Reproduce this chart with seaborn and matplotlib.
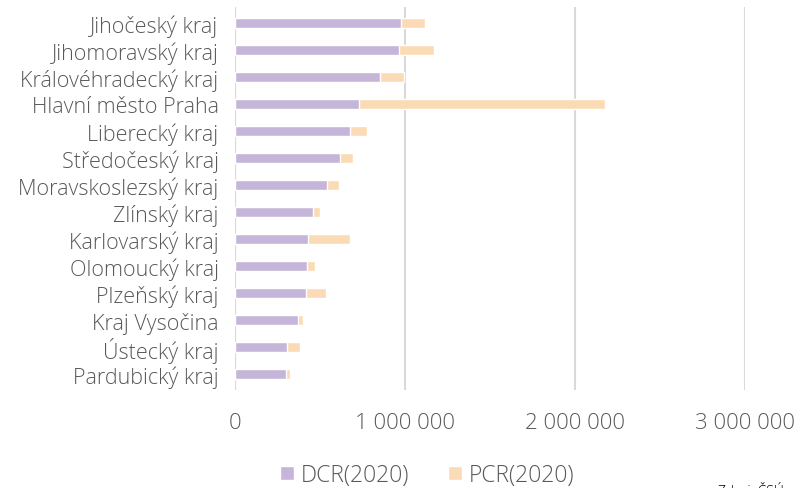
import pandas as pd
import matplotlib.pyplot as plt
import matplotlib.ticker as mticker
from matplotlib.patches import Patch
import seaborn as sns

# Data (in people)
kraje = ['Jihočeský kraj', 'Jihomoravský kraj', 'Královéhradecký kraj', 'Hlavní město Praha',
         'Liberecký kraj', 'Středočeský kraj', 'Moravskoslezský kraj', 'Zlínský kraj',
         'Karlovarský kraj', 'Olomoucký kraj', 'Plzeňský kraj', 'Kraj Vysočina',
         'Ústecký kraj', 'Pardubický kraj']
dcr = [974000, 962000, 850000, 726000, 674000, 615000, 538000, 456000,
       426000, 423000, 415000, 368000, 303000, 297000]
pcr = [143000, 206000, 143000, 1453000, 100000, 76000, 73000, 45000,
       248000, 49000, 117000, 29000, 78000, 23000]

df = pd.DataFrame({'Kraj': kraje, 'DCR': dcr, 'PCR': pcr})
df['Celkem'] = df['DCR'] + df['PCR']

barva_dcr = '#C5B6D9'
barva_pcr = '#FADBB5'
seda = '#595959'

sns.set_style('white')
plt.rcParams['font.family'] = ['Open Sans', 'DejaVu Sans']
plt.rcParams['font.weight'] = 'light'

fig = plt.figure(figsize=(8, 4.89), dpi=100)
ax = fig.add_axes([0.294, 0.2, 0.637, 0.784])

sns.barplot(data=df, y='Kraj', x='Celkem', color=barva_pcr, orient='h', width=0.4,
            saturation=1, ax=ax)
sns.barplot(data=df, y='Kraj', x='DCR', color=barva_dcr, orient='h', width=0.4,
            saturation=1, ax=ax)

ax.set_xlim(0, 3000000)
ax.set_ylim(13.6, -0.6)
ax.set_xticks([0, 1000000, 2000000, 3000000])
ax.xaxis.set_major_formatter(mticker.FuncFormatter(lambda v, p: f'{int(v):,}'.replace(',', ' ')))
ax.grid(axis='x', color='#d9d9d9', linewidth=1.5)
ax.set_axisbelow(True)
for s in ax.spines.values():
    s.set_visible(False)
ax.axvline(0, color='#d9d9d9', linewidth=1.5, zorder=0.5)
ax.tick_params(axis='x', length=0, pad=16, labelsize=16, labelcolor=seda)
ax.tick_params(axis='y', length=0, pad=12, labelsize=15.5, labelcolor=seda)
ax.set_xlabel('')
ax.set_ylabel('')

handles = [Patch(facecolor=barva_dcr, label='DCR(2020)'),
           Patch(facecolor=barva_pcr, label='PCR(2020)')]
fig.legend(handles=handles, loc='center', bbox_to_anchor=(0.534, 0.026), ncol=2, frameon=False,
           fontsize=16.5, labelcolor=seda, handlelength=0.6, handleheight=0.6,
           handletextpad=0.3, columnspacing=1.7, borderpad=0)

fig.text(0.897, -0.022, 'Zdroj: ČSÚ', fontsize=10, color='black', va='bottom')

fig.savefig('out.png', dpi=100)
